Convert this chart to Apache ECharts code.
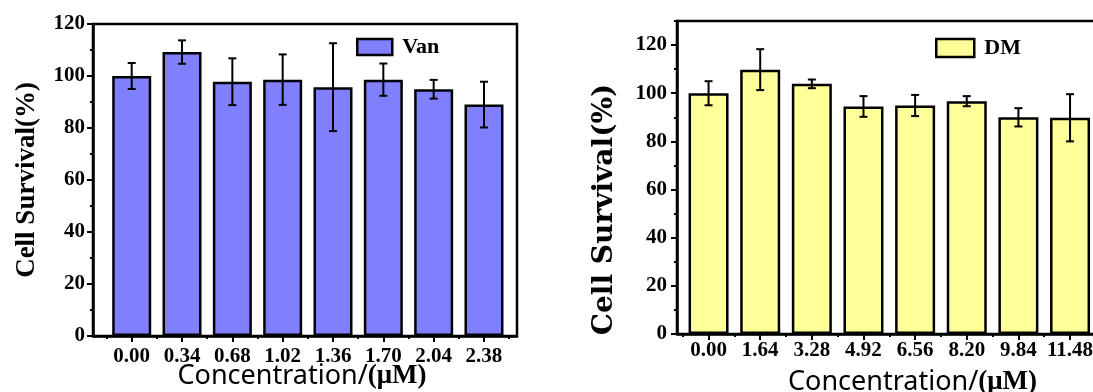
<!DOCTYPE html>
<html>
<head>
<meta charset="utf-8">
<script src="https://cdn.jsdelivr.net/npm/echarts@6/dist/echarts.min.js"></script>
<style>
  html, body { margin: 0; padding: 0; background: #ffffff; }
  #chart { width: 1093px; height: 392px; }
</style>
</head>
<body>
<div id="chart"></div>
<script>
// Cell survival (%) after treatment, mean ± error
const vanCategories = ['0.00', '0.34', '0.68', '1.02', '1.36', '1.70', '2.04', '2.38'];
const vanMeans      = [100, 109.2, 97.8, 98.6, 95.7, 98.6, 94.9, 89.0];
const vanErrors     = [5.0, 4.5, 9.0, 9.7, 16.9, 6.2, 3.6, 8.8];

const dmCategories  = ['0.00', '1.64', '3.28', '4.92', '6.56', '8.20', '9.84', '11.48'];
const dmMeans       = [100, 109.8, 103.9, 94.5, 94.9, 96.7, 90.0, 89.8];
const dmErrors      = [5.0, 8.5, 1.8, 4.3, 4.4, 2.1, 3.8, 9.8];

const yMajorTicks    = [0, 20, 40, 60, 80, 100, 120];
const yMinorTicksVan = [10, 30, 50, 70, 90, 110];
const yMinorTicksDm  = [10, 30, 50, 70, 90, 110, 130];

const SERIF = "'Liberation Serif', 'Times New Roman', serif";
const WIDE_SERIF = "'DejaVu Serif', serif";
const SANS = "'Noto Sans', 'Liberation Sans', Arial, sans-serif";

// vertical whisker with caps, from (mean - err) to (mean + err)
function errorBar(params, api) {
  const x = api.value(0);
  const lo = api.coord([x, api.value(1)]);
  const hi = api.coord([x, api.value(2)]);
  const cap = 4;
  const style = { stroke: '#000', lineWidth: 2 };
  return {
    type: 'group',
    children: [
      { type: 'line', shape: { x1: hi[0], y1: hi[1], x2: lo[0], y2: lo[1] }, style },
      { type: 'line', shape: { x1: hi[0] - cap, y1: hi[1], x2: hi[0] + cap, y2: hi[1] }, style },
      { type: 'line', shape: { x1: lo[0] - cap, y1: lo[1], x2: lo[0] + cap, y2: lo[1] }, style }
    ]
  };
}

const panels = [
  {
    name: 'Van', cats: vanCategories, means: vanMeans, errs: vanErrors,
    color: '#8080ff', yMax: 120, yMinor: yMinorTicksVan,
    grid: { left: 93, right: 576, top: 24, bottom: 56 },
    xMin: -0.769, xMax: 7.656, barWidth: 39,
    labelMargin: 10, nameGap: 27, namePad: [0, 6, 0, 0],
    yLabelMargin: 8,
    yName: { gap: 52, font: SERIF, size: 27, pad: [0, 0, 0, 0] },
    legend: { left: 351, top: 31, itemWidth: 35, itemHeight: 16 }
  },
  {
    name: 'DM', cats: dmCategories, means: dmMeans, errs: dmErrors,
    color: '#ffff99', yMax: 130, yMinor: yMinorTicksDm,
    grid: { left: 677, right: -7, top: 21, bottom: 58 },
    xMin: -0.611, xMax: 7.58, barWidth: 40,
    labelMargin: 6, nameGap: 35, namePad: [0, 0, 0, 48],
    yLabelMargin: 10,
    yName: { gap: 58, font: WIDE_SERIF, size: 28, pad: [0, 64, 0, 0] },
    legend: { left: 930, top: 32, itemWidth: 38, itemHeight: 18 }
  }
];

const option = {
  animation: false,
  backgroundColor: '#ffffff',
  grid: [], xAxis: [], yAxis: [], series: [], legend: []
};

panels.forEach((p, k) => {
  const idx = p.cats.map((c, i) => i);
  const halves = p.cats.slice(0, -1).map((c, i) => i + 0.5);
  halves.unshift(-0.5);
  halves.push(p.cats.length - 0.5);

  option.grid.push(Object.assign({
    show: true, borderColor: '#000', borderWidth: 2.5, backgroundColor: 'transparent',
    outerBoundsMode: 'none', containLabel: false
  }, p.grid));

  option.xAxis.push({
    type: 'value', gridIndex: k, position: 'bottom', min: p.xMin, max: p.xMax,
    axisLine: { show: true, onZero: false, lineStyle: { color: '#000', width: 2.5 } },
    axisTick: { show: true, customValues: idx, length: 6, lineStyle: { color: '#000', width: 2 } },
    axisLabel: {
      customValues: idx, margin: p.labelMargin,
      formatter: v => p.cats[Math.round(v)],
      color: '#000', fontFamily: SERIF, fontWeight: 'bold', fontSize: 21
    },
    splitLine: { show: false },
    name: '{a|Concentration/}{b|(μM)}',
    nameLocation: 'middle', nameGap: p.nameGap, nameMoveOverlap: false,
    nameTextStyle: {
      padding: p.namePad,
      rich: {
        a: { fontFamily: SANS, fontSize: 27, color: '#000' },
        b: { fontFamily: SERIF, fontWeight: 'bold', fontSize: 27, color: '#000' }
      }
    }
  });
  // short ticks between categories
  option.xAxis.push({
    type: 'value', gridIndex: k, position: 'bottom', min: p.xMin, max: p.xMax,
    axisLine: { show: false, onZero: false },
    axisTick: { show: true, customValues: halves, length: 3, lineStyle: { color: '#000', width: 2 } },
    axisLabel: { show: false },
    splitLine: { show: false }
  });

  option.yAxis.push({
    type: 'value', gridIndex: k, position: 'left', min: 0, max: p.yMax,
    axisLine: { show: true, onZero: false, lineStyle: { color: '#000', width: 2.5 } },
    axisTick: { show: true, customValues: yMajorTicks, length: 6, lineStyle: { color: '#000', width: 2 } },
    axisLabel: {
      customValues: yMajorTicks, margin: p.yLabelMargin,
      color: '#000', fontFamily: SERIF, fontWeight: 'bold', fontSize: 21
    },
    splitLine: { show: false },
    name: 'Cell Survival(%)', nameLocation: 'middle', nameGap: p.yName.gap, nameMoveOverlap: false,
    nameTextStyle: {
      fontFamily: p.yName.font, fontWeight: 'bold', fontSize: p.yName.size, color: '#000',
      padding: p.yName.pad
    }
  });
  // short ticks at odd tens
  option.yAxis.push({
    type: 'value', gridIndex: k, position: 'left', min: 0, max: p.yMax,
    axisLine: { show: false, onZero: false },
    axisTick: { show: true, customValues: p.yMinor, length: 3, lineStyle: { color: '#000', width: 2 } },
    axisLabel: { show: false },
    splitLine: { show: false }
  });

  option.series.push({
    type: 'bar', name: p.name,
    xAxisIndex: 2 * k, yAxisIndex: 2 * k,
    barWidth: p.barWidth,
    data: p.means.map((v, i) => [i, v]),
    itemStyle: { color: p.color, borderColor: '#000', borderWidth: 2.5 },
    z: 2
  });
  option.series.push({
    type: 'custom', name: p.name + ' error',
    xAxisIndex: 2 * k, yAxisIndex: 2 * k,
    renderItem: errorBar,
    dimensions: ['x', 'low', 'high'],
    encode: { x: 0, y: [1, 2] },
    data: p.means.map((v, i) => [i, v - p.errs[i], v + p.errs[i]]),
    z: 3
  });

  option.legend.push(Object.assign({
    data: [p.name], orient: 'horizontal', icon: 'rect',
    itemStyle: { color: p.color, borderColor: '#000', borderWidth: 2.5 },
    textStyle: { fontFamily: SERIF, fontWeight: 'bold', fontSize: 22, color: '#000', padding: [0, 0, 0, 5] },
    selectedMode: false
  }, p.legend));
});

const chart = echarts.init(document.getElementById('chart'), null, { renderer: 'canvas' });
chart.setOption(option);
</script>
</body>
</html>
